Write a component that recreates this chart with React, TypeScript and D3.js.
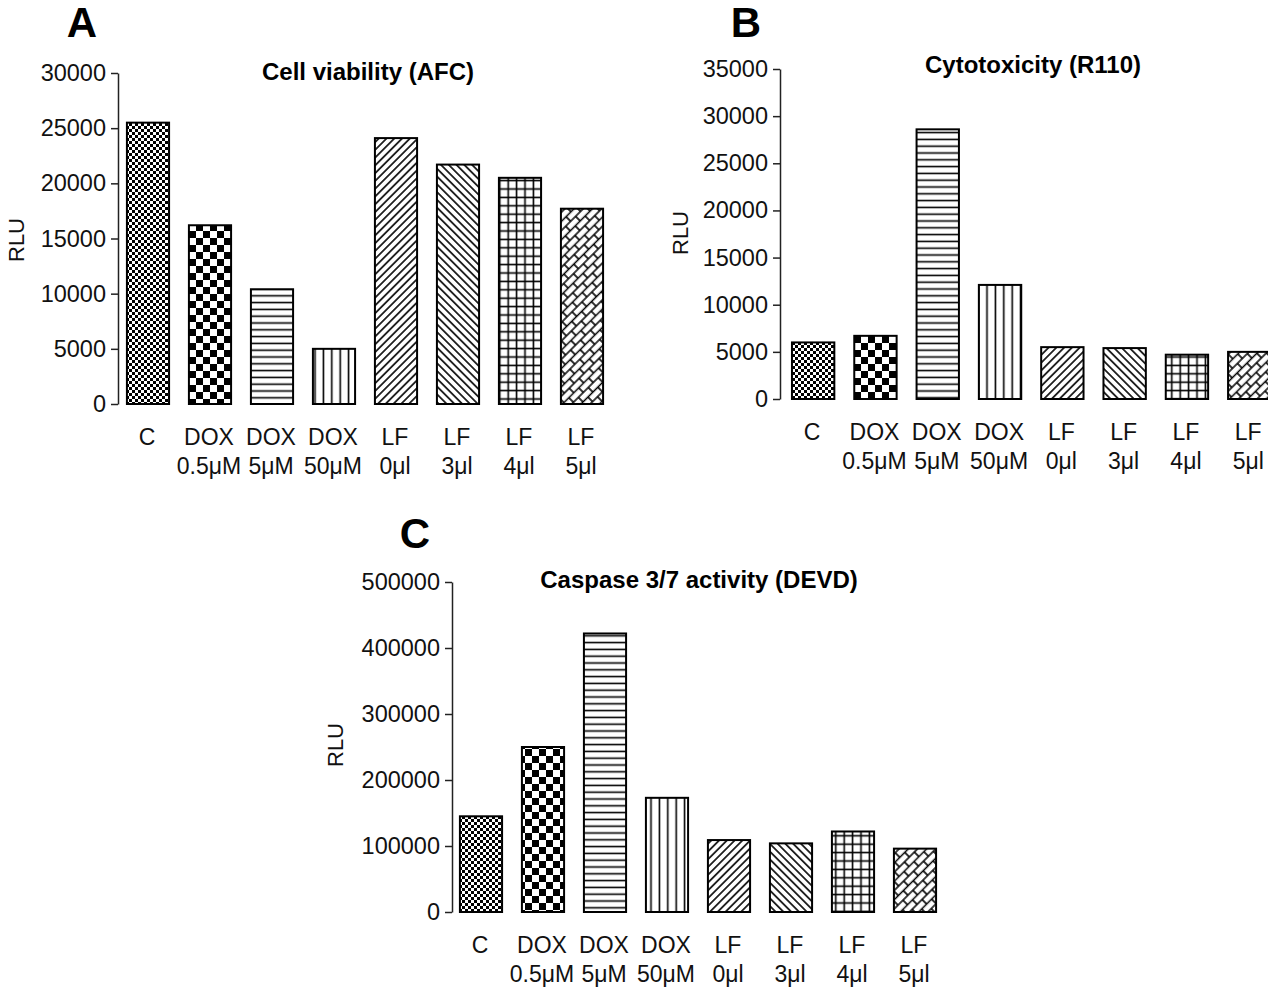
import { useEffect, useRef } from "react";
import * as d3 from "d3";

const labelTop = ["C", "DOX", "DOX", "DOX", "LF", "LF", "LF", "LF"];
const labelBottom = ["", "0.5μM", "5μM", "50μM", "0μl", "3μl", "4μl", "5μl"];
const fills = ["checkFine", "checkCoarse", "hLines", "vLines", "diagUp", "diagDown", "grid", "bricks"];

const viabilityAFC = [25500, 16200, 10400, 5000, 24100, 21700, 20500, 17700];
const viabilityTicks = [0, 5000, 10000, 15000, 20000, 25000, 30000];

const cytotoxR110 = [6000, 6700, 28600, 12100, 5500, 5400, 4700, 5000];
const cytotoxTicks = [0, 5000, 10000, 15000, 20000, 25000, 30000, 35000];

const caspaseDEVD = [145000, 250000, 422000, 173000, 109000, 104000, 122000, 96000];
const caspaseTicks = [0, 100000, 200000, 300000, 400000, 500000];

const FONT = "Arial, 'Liberation Sans', sans-serif";

const panels = [
  {
    letter: "A", title: "Cell viability (AFC)", values: viabilityAFC, ticks: viabilityTicks,
    axisX: 118, x0: 117, step: 62, top: 73, bottom: 404,
    letterX: 82, letterY: 37, titleX: 368, titleY: 80, rluX: 24, rluY: 240,
  },
  {
    letter: "B", title: "Cytotoxicity (R110)", values: cytotoxR110, ticks: cytotoxTicks,
    axisX: 780, x0: 782, step: 62.3, top: 69, bottom: 399,
    letterX: 746, letterY: 37, titleX: 1033, titleY: 73, rluX: 688, rluY: 233,
  },
  {
    letter: "C", title: "Caspase 3/7 activity (DEVD)", values: caspaseDEVD, ticks: caspaseTicks,
    axisX: 452, x0: 450, step: 62, top: 582, bottom: 912,
    letterX: 415, letterY: 548, titleX: 699, titleY: 588, rluX: 343, rluY: 745,
  },
];

function addPatterns(defs) {
  const pat = (id, w, h, rot = 0) => {
    const p = defs.append("pattern")
      .attr("id", id)
      .attr("patternUnits", "userSpaceOnUse")
      .attr("width", w)
      .attr("height", h);
    if (rot) p.attr("patternTransform", `rotate(${rot})`);
    p.append("rect").attr("width", w).attr("height", h).attr("fill", "#fff");
    return p;
  };

  const fine = pat("checkFine", 6, 6);
  fine.append("rect").attr("width", 3).attr("height", 3).attr("fill", "#000");
  fine.append("rect").attr("x", 3).attr("y", 3).attr("width", 3).attr("height", 3).attr("fill", "#000");

  const coarse = pat("checkCoarse", 14, 14);
  coarse.append("rect").attr("width", 7).attr("height", 7).attr("fill", "#000");
  coarse.append("rect").attr("x", 7).attr("y", 7).attr("width", 7).attr("height", 7).attr("fill", "#000");

  const h = pat("hLines", 10, 6.8);
  h.append("line").attr("x1", 0).attr("x2", 10).attr("y1", 3.4).attr("y2", 3.4)
    .attr("stroke", "#000").attr("stroke-width", 1.6);

  const v = pat("vLines", 8.4, 10);
  v.append("line").attr("x1", 4.2).attr("x2", 4.2).attr("y1", 0).attr("y2", 10)
    .attr("stroke", "#000").attr("stroke-width", 1.6);

  const up = pat("diagUp", 5.5, 10, 45);
  up.append("line").attr("x1", 2.75).attr("x2", 2.75).attr("y1", 0).attr("y2", 10)
    .attr("stroke", "#000").attr("stroke-width", 1.6);

  const down = pat("diagDown", 5.5, 10, -45);
  down.append("line").attr("x1", 2.75).attr("x2", 2.75).attr("y1", 0).attr("y2", 10)
    .attr("stroke", "#000").attr("stroke-width", 1.6);

  const grid = pat("grid", 8.4, 8.4);
  grid.append("line").attr("x1", 4.2).attr("x2", 4.2).attr("y1", 0).attr("y2", 8.4)
    .attr("stroke", "#000").attr("stroke-width", 1.6);
  grid.append("line").attr("x1", 0).attr("x2", 8.4).attr("y1", 4.2).attr("y2", 4.2)
    .attr("stroke", "#000").attr("stroke-width", 1.6);

  const bricks = pat("bricks", 14, 13, -45);
  bricks.append("path")
    .attr("d", "M0,1H14M0,7.5H14M2,1V7.5M9,7.5V14M9,-5.5V1")
    .attr("stroke", "#000").attr("stroke-width", 1.6).attr("fill", "none");
}

export default function App() {
  const ref = useRef(null);

  useEffect(() => {
    const svg = d3.select(ref.current);
    svg.selectAll("*").remove();
    addPatterns(svg.append("defs"));

    panels.forEach(p => {
      const g = svg.append("g");
      const n = p.values.length;

      const x = d3.scaleBand()
        .domain(d3.range(n))
        .range([p.x0, p.x0 + n * p.step])
        .paddingInner(0.32)
        .paddingOuter(0.16);

      const y = d3.scaleLinear()
        .domain([0, d3.max(p.ticks)])
        .range([p.bottom, p.top]);

      g.selectAll("rect.bar")
        .data(p.values)
        .join("rect")
        .attr("class", "bar")
        .attr("x", (d, i) => x(i))
        .attr("width", x.bandwidth())
        .attr("y", d => y(d))
        .attr("height", d => y(0) - y(d))
        .attr("fill", (d, i) => `url(#${fills[i]})`)
        .attr("stroke", "#000")
        .attr("stroke-width", 2);

      const axis = g.append("g")
        .attr("transform", `translate(${p.axisX},0)`)
        .call(d3.axisLeft(y).tickValues(p.ticks).tickFormat(d3.format("d")).tickSize(7).tickSizeOuter(0).tickPadding(5));
      axis.select(".domain").attr("stroke", "#222").attr("stroke-width", 1.5);
      axis.selectAll(".tick line").attr("stroke", "#222").attr("stroke-width", 1.5);
      axis.selectAll(".tick text")
        .attr("font-family", FONT).attr("font-size", 23.5).attr("fill", "#111");

      const lab = g.selectAll("g.lab")
        .data(d3.range(n))
        .join("g")
        .attr("class", "lab")
        .attr("transform", i => `translate(${x(i) + x.bandwidth() / 2 - 1},${p.bottom})`)
        .attr("font-family", FONT)
        .attr("font-size", 23)
        .attr("fill", "#111")
        .attr("text-anchor", "middle");
      lab.append("text").attr("y", 41).text(i => labelTop[i]);
      lab.append("text").attr("y", 70).text(i => labelBottom[i]);

      g.append("text")
        .attr("x", p.titleX).attr("y", p.titleY)
        .attr("text-anchor", "middle")
        .attr("font-family", FONT).attr("font-weight", "bold").attr("font-size", 24)
        .text(p.title);

      g.append("text")
        .attr("x", p.letterX).attr("y", p.letterY)
        .attr("text-anchor", "middle")
        .attr("font-family", FONT).attr("font-weight", "bold").attr("font-size", 42)
        .text(p.letter);

      g.append("text")
        .attr("transform", `translate(${p.rluX},${p.rluY}) rotate(-90)`)
        .attr("text-anchor", "middle")
        .attr("font-family", FONT).attr("font-size", 22).attr("fill", "#111")
        .text("RLU");
    });
  }, []);

  return (
    <svg
      ref={ref}
      width={1268}
      height={988}
      style={{ position: "absolute", left: 0, top: 0, background: "#fff" }}
    />
  );
}
